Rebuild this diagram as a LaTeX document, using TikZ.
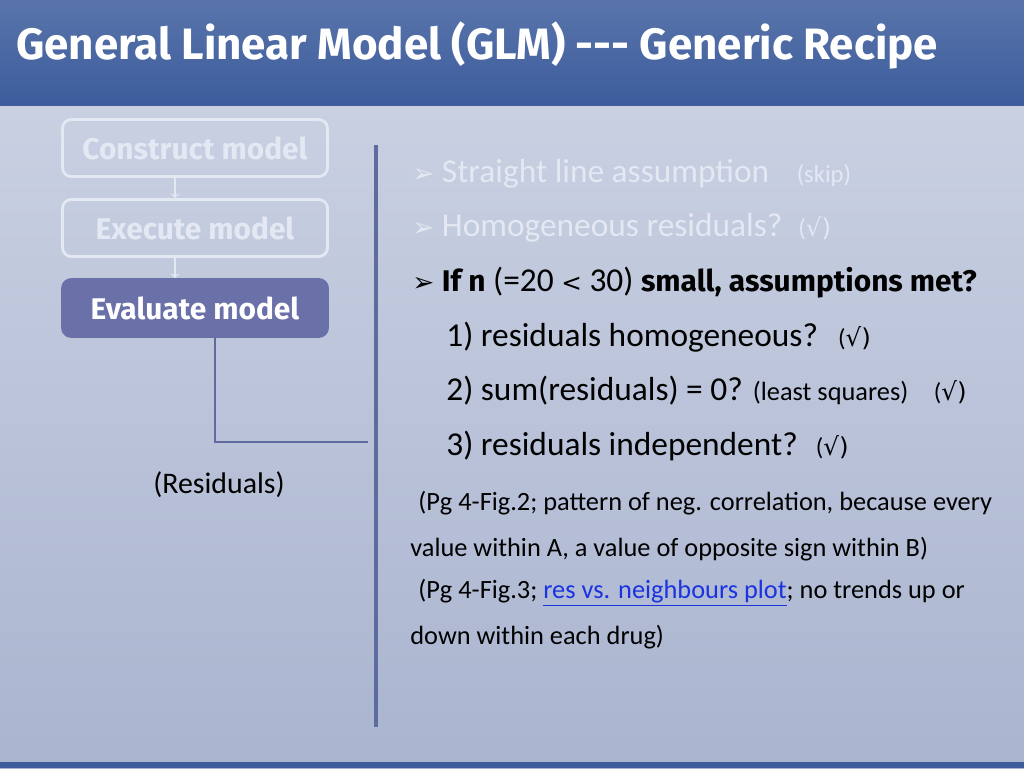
\documentclass[tikz,border=0pt]{standalone}
\usepackage{fontspec}
\setmainfont{Carlito}
\newfontfamily\titlefont{Fira Sans}
\newfontfamily\symfont{DejaVu Sans}
\usetikzlibrary{positioning}
\definecolor{titleblue}{HTML}{3C5C9C}
\definecolor{bodytop}{HTML}{C9D0E2}
\definecolor{bodybot}{HTML}{A9B4CF}
\definecolor{boxfill}{HTML}{6A70A8}
\definecolor{faded}{HTML}{E4E8F2}
\definecolor{linkblue}{HTML}{1A33E0}
\definecolor{axisline}{HTML}{5F6A9E}
\tikzset{
  stepbox/.style={draw=faded, line width=1.6pt, rounded corners=5pt, minimum width=265\pxu, minimum height=57\pxu, font=\titlefont\bfseries\fontsize{17}{20}\selectfont, text=faded},
  donebox/.style={stepbox, fill=boxfill, draw=boxfill, text=white},
  item/.style={anchor=west, font=\fontsize{19}{22}\selectfont, inner sep=0pt},
  note/.style={anchor=west, font=\fontsize{15}{18}\selectfont, inner sep=0pt}
}
\newlength{\pxu}\setlength{\pxu}{0.02cm}
\begin{document}
\begin{tikzpicture}[x=0.02cm, y=-0.02cm]
	
	% Background
	\useasboundingbox (0,0) rectangle (1024,768);
	\shade[top color=bodytop, bottom color=bodybot] (0,105) rectangle (1024,768);
	\shade[top color=titleblue!85!white, bottom color=titleblue] (0,0) rectangle (1024,105);
	\fill[titleblue] (0,762) rectangle (1024,768);
	\node[anchor=west, text=white, font=\titlefont\bfseries\fontsize{25}{28}\selectfont] (title) at (10,46) {General Linear Model (GLM) --- Generic Recipe};
	
	% Steps
	\node[stepbox] (construct) at (195,148) {Construct model};
	\node[stepbox] (execute) at (195,228) {Execute model};
	\node[donebox] (evaluate) at (195,308) {Evaluate model};
	\draw[->, faded, thick] (construct.south -| 175,0) -- (execute.north -| 175,0);
	\draw[->, faded, thick] (execute.south -| 175,0) -- (evaluate.north -| 175,0);
	
	% Connector
	\coordinate (bend) at (215,442);
	\coordinate (divider) at (368,442);
	\draw[axisline, line width=1.5pt] (evaluate.south -| bend) -- (bend) -- (divider);
	\draw[axisline, line width=2pt] (376,145) -- (376,727);
	\node[font=\fontsize{17}{20}\selectfont] (residuals) at (219,485) {(Residuals)};
	
	% Assumptions
	\node[item, text=faded] (line) at (412,174) {{\symfont\fontsize{15}{18}\selectfont ➢} Straight line assumption \hspace{20\pxu}{\fontsize{14}{16}\selectfont (skip)}};
	\node[item, text=faded] (homog) at (412,228) {{\symfont\fontsize{15}{18}\selectfont ➢} Homogeneous residuals? \hspace{6\pxu}{\fontsize{14}{16}\selectfont (\symfont√)}};
	\node[item] (small) at (412,283) {{\symfont\fontsize{15}{18}\selectfont ➢} {\titlefont\bfseries\fontsize{17}{20}\selectfont If n} (=20 {\fontsize{14}{16}\selectfont\symfont<} 30) {\titlefont\bfseries\fontsize{17}{20}\selectfont small, assumptions met?}};
	\node[item] (one) at (446,337) {1) residuals homogeneous? \hspace{10\pxu}{\fontsize{14}{16}\selectfont(\symfont√)}};
	\node[item] (two) at (446,391) {2) sum(residuals) = 0? {\fontsize{15}{18}\selectfont(least squares)} \hspace{18\pxu}{\fontsize{14}{16}\selectfont(\symfont√)}};
	\node[item] (three) at (446,446) {3) residuals independent? \hspace{8\pxu}{\fontsize{14}{16}\selectfont(\symfont√)}};
	
	% Notes
	\node[note] (fig2) at (418,503) {(Pg 4-Fig.2; pattern of neg. correlation, because every};
	\node[note] (fig2b) at (410,549) {value within A, a value of opposite sign within B)};
	\node[note] (fig3) at (418,593) {(Pg 4-Fig.3; {\color{linkblue}\underline{res vs. neighbours plot}}; no trends up or};
	\node[note] (fig3b) at (410,637) {down within each drug)};
\end{tikzpicture}
\end{document}
